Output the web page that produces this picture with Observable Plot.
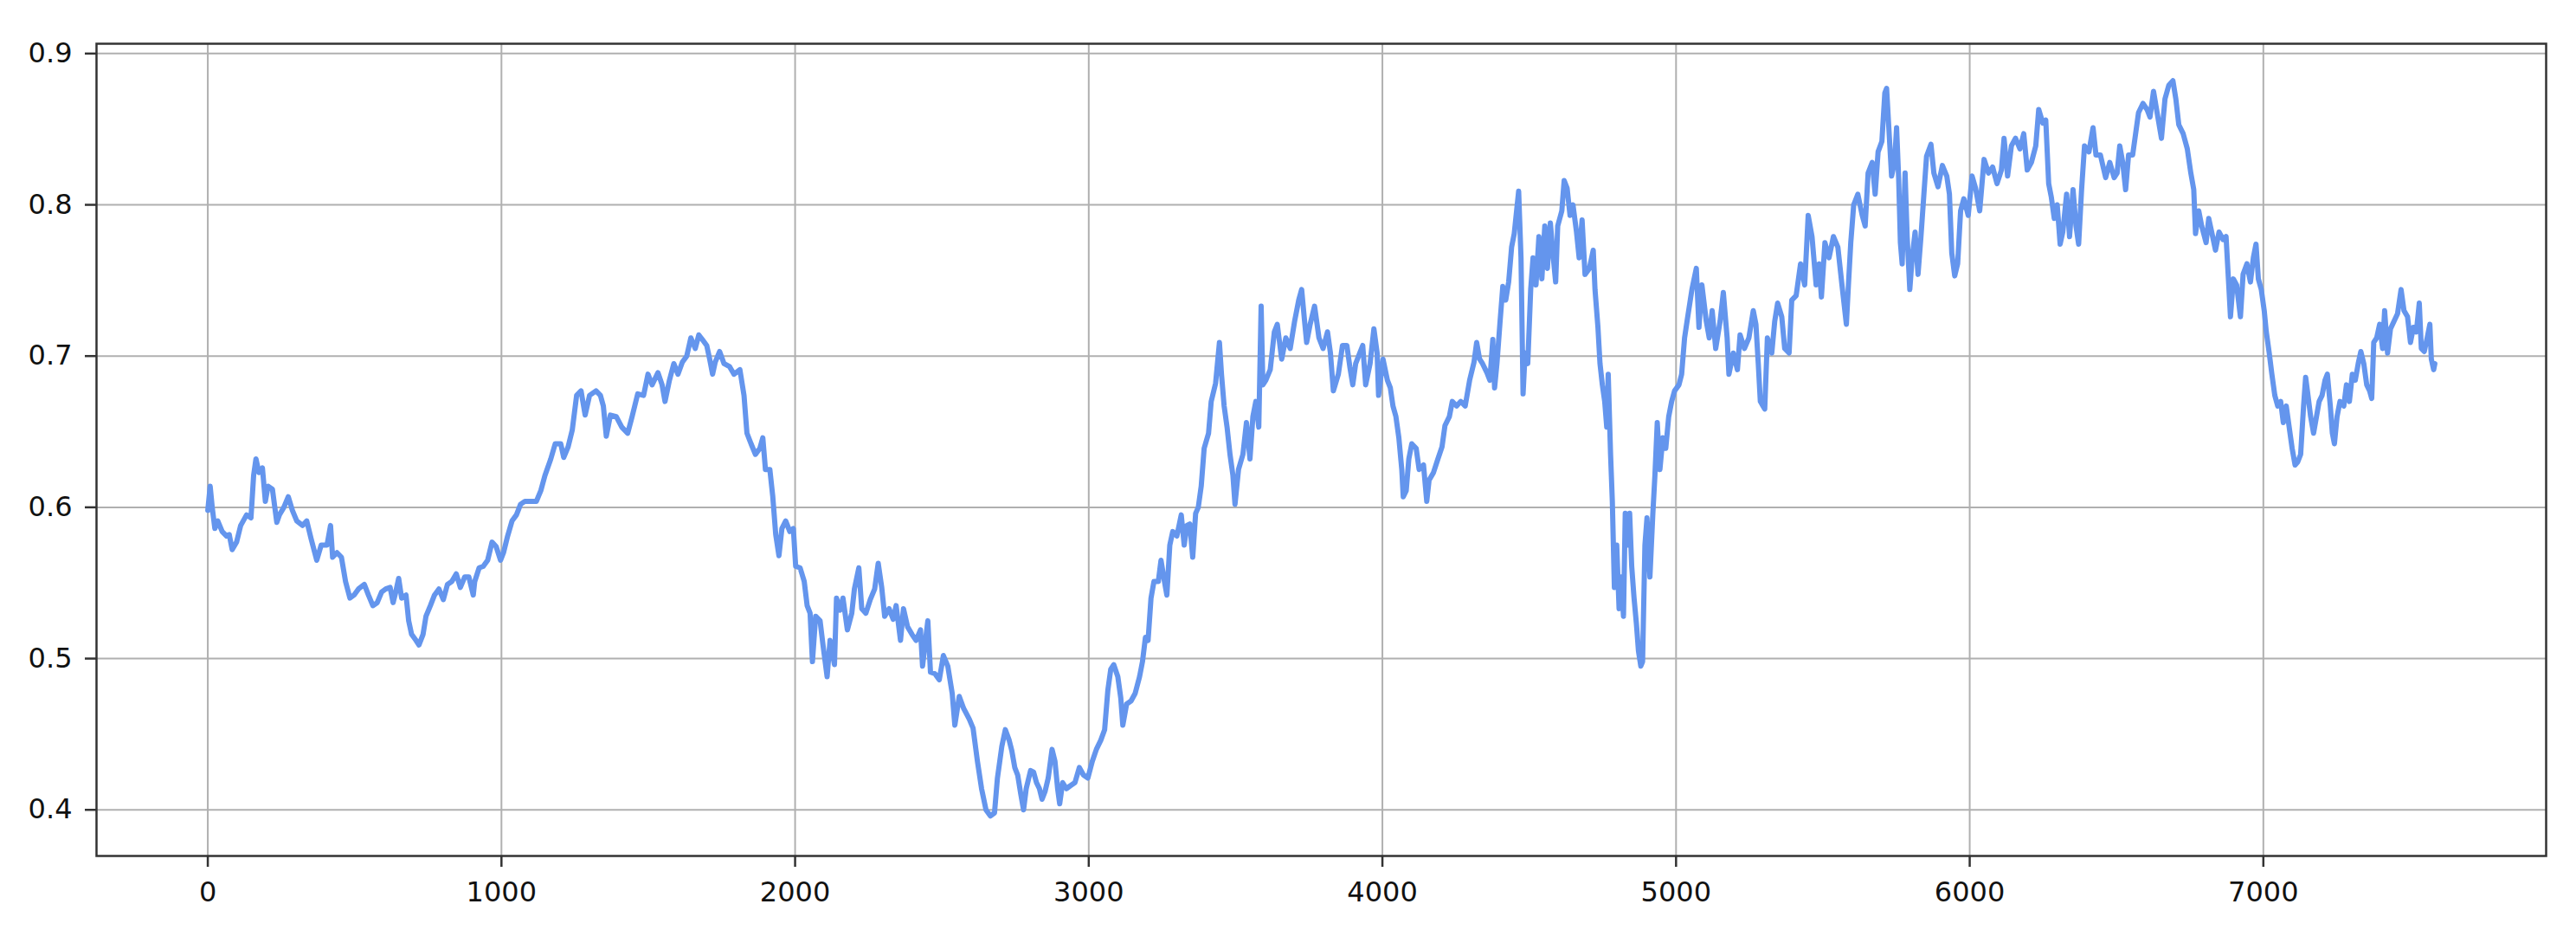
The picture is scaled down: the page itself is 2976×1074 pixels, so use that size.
<!DOCTYPE html>
<html><head><meta charset="utf-8">
<script src="https://cdn.jsdelivr.net/npm/d3@7"></script>
<script src="https://cdn.jsdelivr.net/npm/@observablehq/plot@0.6"></script>
<style>
html,body{margin:0;padding:0;background:#fff;overflow:hidden}
#chart svg text{font-size:32px !important;font-family:'DejaVu Sans',sans-serif !important;fill:#111}
</style>
</head><body><div id="chart"></div>
<script>
const steps = [
0,8,15,24,34,49,64,73,83,98,
112,132,147,156,164,174,186,196,205,220,
235,244,259,274,288,303,323,337,352,371,
386,406,418,425,440,455,469,484,498,513,
533,547,562,577,592,606,621,631,640,650,
660,675,684,694,709,719,733,743,758,772,
787,802,816,831,846,860,875,889,904,909,
924,938,953,968,982,997,1007,1021,1036,1051,
1065,1080,1100,1119,1134,1148,1168,1183,1202,1212,
1227,1241,1256,1271,1285,1300,1322,1337,1347,1357,
1371,1391,1410,1430,1445,1464,1484,1499,1513,1533,
1547,1557,1572,1587,1601,1616,1631,1645,1660,1672,
1684,1699,1709,1719,1728,1743,1758,1777,1792,1812,
1826,1836,1850,1865,1880,1890,1899,1914,1924,1934,
1945,1955,1968,1982,1994,2002,2017,2031,2041,2051,
2059,2070,2085,2095,2109,2119,2134,2141,2153,2163,
2178,2193,2202,2217,2227,2241,2256,2271,2283,2295,
2305,2320,2334,2344,2359,2369,2383,2398,2412,2427,
2434,2444,2452,2461,2476,2491,2505,2520,2535,2544,
2559,2574,2593,2606,2621,2635,2650,2665,2679,2689,
2704,2716,2729,2738,2748,2758,2768,2778,2787,2802,
2812,2822,2832,2841,2851,2862,2875,2885,2894,2901,
2911,2924,2938,2953,2968,2982,2997,3012,3026,3041,
3054,3065,3075,3085,3099,3109,3116,3129,3144,3158,
3173,3183,3193,3202,3212,3222,3237,3246,3256,3266,
3276,3286,3300,3315,3325,3334,3344,3354,3364,3373,
3383,3393,3408,3417,3432,3445,3452,3461,3471,3481,
3491,3498,3510,3525,3537,3549,3559,3569,3579,3587,
3593,3603,3618,3632,3642,3657,3671,3686,3701,3715,
3725,3735,3742,3754,3769,3784,3798,3813,3823,3833,
3850,3864,3879,3889,3899,3909,3923,3933,3943,3958,
3971,3982,3987,4002,4017,4027,4036,4046,4056,4066,
4071,4081,4090,4100,4115,4125,4140,4151,4159,4174,
4189,4203,4213,4228,4238,4253,4267,4282,4297,4312,
4321,4331,4341,4356,4366,4376,4382,4390,4400,4410,
4420,4430,4440,4449,4457,4464,4472,4479,4486,4495,
4505,4513,4523,4533,4543,4553,4562,4572,4582,4590,
4597,4611,4619,4629,4639,4649,4661,4670,4680,4690,
4705,4718,4724,4734,4741,4749,4757,4764,4769,4777,
4783,4790,4798,4806,4813,4821,4827,4835,4842,4849,
4857,4865,4872,4880,4886,4894,4901,4911,4921,4928,
4936,4945,4955,4965,4975,4985,4995,5010,5019,5029,
5039,5054,5069,5078,5088,5103,5113,5123,5135,5150,
5161,5174,5180,5195,5209,5218,5233,5248,5263,5272,
5280,5287,5302,5311,5326,5336,5346,5360,5370,5385,
5394,5409,5424,5438,5450,5463,5477,5487,5495,5507,
5521,5536,5551,5565,5580,5587,5595,5605,5619,5634,
5644,5654,5668,5678,5688,5701,5711,5717,5726,5734,
5744,5751,5758,5764,5770,5780,5787,5796,5804,5814,
5824,5834,5844,5853,5868,5878,5892,5907,5922,5931,
5939,5949,5959,5969,5980,5995,6008,6020,6034,6049,
6064,6078,6093,6108,6117,6129,6142,6156,6171,6184,
6196,6210,6225,6235,6249,6259,6269,6278,6288,6298,
6308,6317,6330,6340,6352,6362,6371,6381,6391,6406,
6420,6430,6445,6463,6477,6492,6502,6511,6521,6531,
6541,6555,6565,6575,6590,6604,6614,6626,6639,6653,
6665,6678,6692,6702,6712,6727,6741,6753,6763,6769,
6780,6790,6805,6814,6824,6837,6849,6863,6873,6883,
6888,6898,6909,6922,6931,6944,6956,6966,6975,6983,
6993,7003,7010,7020,7029,7039,7049,7059,7068,7078,
7088,7098,7108,7117,7127,7137,7144,7152,7161,7171,
7181,7190,7200,7210,7218,7228,7235,7242,7251,7261,
7274,7283,7293,7303,7313,7323,7332,7342,7352,7362,
7369,7376,7386,7396,7406,7413,7423,7433,7445,7457,
7469,7479,7491,7501,7511,7521,7531,7538,7548,7558,
7567,7572,7580,7584
];
const values = [
.598,.614,.600,.586,.591,.584,.581,.582,.572,.577,
.588,.595,.593,.621,.632,.623,.626,.604,.614,.612,
.590,.595,.600,.607,.598,.591,.588,.591,.579,.565,
.575,.575,.588,.567,.570,.567,.551,.540,.542,.546,
.549,.542,.535,.537,.544,.546,.547,.537,.544,.553,
.540,.542,.525,.516,.512,.509,.516,.528,.535,.542,
.546,.539,.549,.551,.556,.547,.554,.554,.542,.551,
.560,.561,.565,.577,.574,.565,.570,.581,.591,.595,
.602,.604,.604,.604,.611,.621,.632,.642,.642,.633,
.640,.651,.674,.677,.661,.674,.677,.674,.667,.647,
.661,.660,.653,.649,.660,.675,.674,.688,.681,.689,
.681,.670,.684,.695,.688,.696,.700,.712,.705,.714,
.711,.707,.698,.688,.696,.703,.695,.693,.688,.691,
.674,.649,.642,.635,.639,.646,.625,.625,.607,.582,
.568,.586,.591,.584,.586,.561,.560,.551,.535,.530,
.498,.528,.525,.509,.488,.512,.496,.540,.532,.540,
.519,.530,.546,.560,.533,.530,.539,.546,.563,.547,
.528,.533,.526,.535,.512,.533,.521,.516,.512,.519,
.495,.512,.525,.491,.490,.486,.502,.495,.477,.456,
.475,.467,.460,.454,.432,.414,.400,.396,.398,.421,
.442,.453,.446,.439,.428,.423,.411,.400,.414,.426,
.425,.418,.414,.407,.412,.421,.440,.432,.414,.404,
.418,.414,.416,.418,.428,.423,.421,.432,.440,.446,
.453,.479,.493,.496,.488,.474,.456,.470,.472,.477,
.488,.498,.514,.512,.540,.551,.551,.565,.553,.542,
.575,.584,.581,.595,.575,.588,.589,.567,.596,.600,
.614,.639,.649,.670,.682,.709,.688,.667,.653,.635,
.621,.602,.625,.635,.656,.632,.660,.670,.653,.733,
.681,.684,.691,.716,.721,.698,.712,.705,.723,.737,
.744,.723,.709,.721,.733,.712,.705,.716,.702,.677,
.688,.707,.707,.693,.681,.695,.702,.707,.681,.695,
.718,.702,.674,.698,.684,.679,.667,.660,.646,.625,
.607,.611,.632,.642,.639,.625,.628,.604,.618,.623,
.632,.640,.654,.660,.670,.667,.670,.667,.684,.696,
.709,.698,.695,.689,.684,.711,.679,.695,.721,.746,
.737,.749,.772,.781,.796,.809,.765,.675,.702,.695,
.744,.765,.747,.779,.751,.786,.758,.788,.765,.749,
.786,.796,.816,.811,.793,.800,.782,.765,.790,.754,
.758,.770,.744,.719,.695,.681,.670,.653,.688,.635,
.604,.547,.575,.533,.554,.528,.596,.575,.596,.561,
.540,.523,.505,.495,.498,.575,.593,.554,.596,.621,
.656,.625,.646,.639,.660,.670,.677,.681,.688,.712,
.725,.744,.758,.719,.747,.723,.712,.730,.705,.723,
.742,.712,.688,.702,.691,.714,.705,.712,.730,.721,
.695,.670,.665,.712,.702,.723,.735,.726,.705,.702,
.737,.740,.761,.747,.793,.779,.747,.761,.739,.775,
.765,.779,.772,.747,.721,.747,.775,.800,.807,.793,
.786,.821,.828,.807,.835,.842,.874,.877,.846,.819,
.828,.851,.818,.775,.761,.821,.779,.744,.765,.782,
.754,.779,.807,.832,.840,.821,.812,.826,.819,.807,
.768,.753,.761,.796,.804,.793,.819,.811,.796,.830,
.821,.825,.814,.823,.844,.819,.839,.844,.837,.847,
.823,.828,.839,.863,.854,.856,.814,.805,.791,.800,
.774,.782,.807,.779,.810,.786,.774,.810,.839,.835,
.851,.833,.833,.818,.828,.818,.821,.839,.828,.810,
.833,.833,.847,.861,.867,.863,.858,.875,.860,.844,
.870,.879,.882,.870,.853,.847,.837,.821,.810,.781,
.796,.786,.775,.791,.782,.770,.782,.777,.779,.744,
.726,.751,.747,.726,.754,.761,.749,.765,.774,.751,
.744,.730,.716,.702,.688,.674,.667,.670,.656,.667,
.653,.639,.628,.630,.635,.667,.686,.674,.660,.649,
.660,.670,.674,.684,.688,.667,.649,.642,.660,.670,
.667,.681,.670,.688,.684,.695,.703,.695,.681,.677,
.672,.709,.712,.721,.705,.730,.702,.718,.723,.728,
.744,.730,.726,.709,.719,.716,.735,.705,.703,.712,
.721,.698,.691,.695
];
const xTicks = [0, 1000, 2000, 3000, 4000, 5000, 6000, 7000];
const yTicks = [0.4, 0.5, 0.6, 0.7, 0.8, 0.9];

const n = Math.min(steps.length, values.length);
const data = [];
for (let i = 0; i < n; i++) data.push({step: steps[i], value: values[i]});

const chart = Plot.plot({
  width: 2976,
  height: 1074,
  marginLeft: 111,
  marginRight: 35,
  marginTop: 50,
  marginBottom: 86,
  style: {fontFamily: "'DejaVu Sans', sans-serif", fontSize: "32px", color: "#111", background: "#fff"},
  x: {domain: [-379, 7963]},
  y: {domain: [0.3695, 0.9065]},
  marks: [
    Plot.gridX(xTicks, {stroke: "#b0b0b0", strokeOpacity: 1, strokeWidth: 2}),
    Plot.gridY(yTicks, {stroke: "#b0b0b0", strokeOpacity: 1, strokeWidth: 2}),
    Plot.line(data, {x: "step", y: "value", stroke: "#6495ED", strokeWidth: 6, strokeLinejoin: "round"}),
    Plot.frame({stroke: "#333", strokeWidth: 2.5}),
    Plot.axisX(xTicks, {tickSize: 13, tickPadding: 17, stroke: "#333", strokeWidth: 2.5, label: null, fontSize: 32, tickFormat: d3.format("d")}),
    Plot.axisY(yTicks, {tickSize: 13, tickPadding: 15, stroke: "#333", strokeWidth: 2.5, label: null, fontSize: 32, tickFormat: d3.format(".1f")})
  ]
});
document.getElementById("chart").appendChild(chart);
</script>
</body></html>
